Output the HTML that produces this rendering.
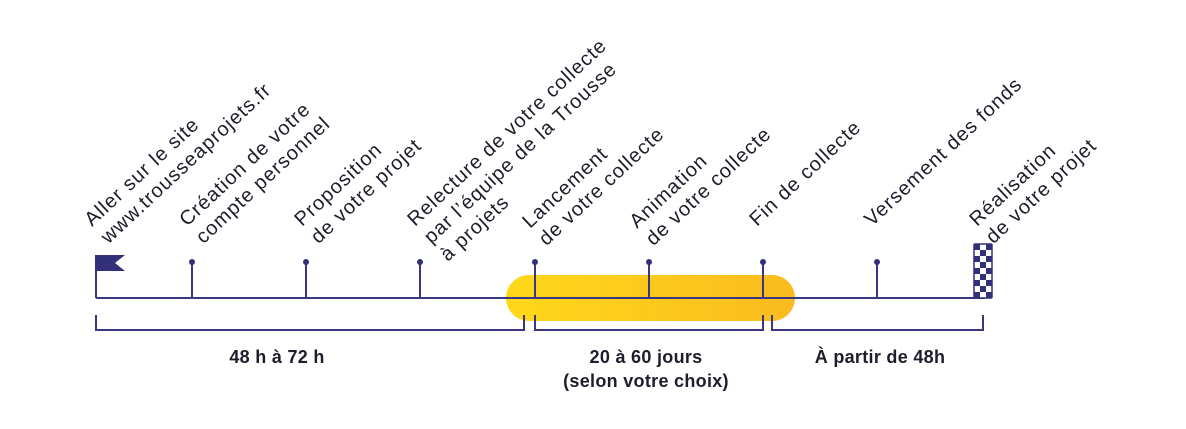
<!DOCTYPE html>
<html><head><meta charset="utf-8"><style>
html,body{margin:0;padding:0;background:#fff;}
svg{display:block;}
text{font-family:"Liberation Sans",sans-serif;fill:#1d1d2b;}
</style></head><body>
<svg width="1186" height="429" viewBox="0 0 1186 429" xmlns="http://www.w3.org/2000/svg">
<defs>
<linearGradient id="g" x1="0" x2="1" y1="0" y2="0">
<stop offset="0" stop-color="#FFD81A"/><stop offset="1" stop-color="#FBBB1F"/>
</linearGradient>
<pattern id="chk" x="974" y="244" width="12" height="12" patternUnits="userSpaceOnUse">
<rect width="12" height="12" fill="#fff"/>
<rect width="6" height="6" fill="#33307a"/><rect x="6" y="6" width="6" height="6" fill="#33307a"/>
</pattern>
</defs>
<rect x="506" y="275" width="289" height="46" rx="23" fill="url(#g)"/>
<g stroke="#3a3682" stroke-width="2" fill="none">
<line x1="96" y1="298" x2="985" y2="298"/>
<line x1="96" y1="256" x2="96" y2="298"/>
<line x1="192" y1="262" x2="192" y2="298"/>
<line x1="306" y1="262" x2="306" y2="298"/>
<line x1="420" y1="262" x2="420" y2="298"/>
<line x1="535" y1="262" x2="535" y2="298"/>
<line x1="649" y1="262" x2="649" y2="298"/>
<line x1="763" y1="262" x2="763" y2="298"/>
<line x1="877" y1="262" x2="877" y2="298"/>
<polyline points="96,315 96,330 524,330 524,315"/>
<polyline points="535,315 535,330 763,330 763,315"/>
<polyline points="772,315 772,330 983,330 983,315"/>
</g>
<g fill="#33307a">
<circle cx="192" cy="262" r="3"/><circle cx="306" cy="262" r="3"/><circle cx="420" cy="262" r="3"/>
<circle cx="535" cy="262" r="3"/><circle cx="649" cy="262" r="3"/><circle cx="763" cy="262" r="3"/>
<circle cx="877" cy="262" r="3"/>
<polygon points="95,255 125,255 115,263 125,271 95,271"/>
</g>
<rect x="974" y="244" width="18" height="54" fill="url(#chk)" stroke="#33307a" stroke-width="1.5" rx="1"/>
<g font-size="20" letter-spacing="1">
<text transform="translate(92,227) rotate(-43)"><tspan x="0" y="0">Aller sur le site</tspan><tspan x="0" y="24">www.trousseaprojets.fr</tspan></text>
<text transform="translate(187,227) rotate(-43)"><tspan x="0" y="0">Création de votre</tspan><tspan x="0" y="24">compte personnel</tspan></text>
<text transform="translate(302,227) rotate(-43)"><tspan x="0" y="0">Proposition</tspan><tspan x="0" y="24">de votre projet</tspan></text>
<text transform="translate(415,227) rotate(-43)"><tspan x="0" y="0">Relecture de votre collecte</tspan><tspan x="0" y="24">par l’équipe de la Trousse</tspan><tspan x="0" y="48">à projets</tspan></text>
<text transform="translate(530,229) rotate(-43)"><tspan x="0" y="0">Lancement</tspan><tspan x="0" y="24">de votre collecte</tspan></text>
<text transform="translate(637,229) rotate(-43)"><tspan x="0" y="0">Animation</tspan><tspan x="0" y="24">de votre collecte</tspan></text>
<text transform="translate(757,227) rotate(-43)"><tspan x="0" y="0">Fin de collecte</tspan></text>
<text transform="translate(872,227) rotate(-43)"><tspan x="0" y="0">Versement des fonds</tspan></text>
<text transform="translate(977,227) rotate(-43)"><tspan x="0" y="0">Réalisation</tspan><tspan x="0" y="24">de votre projet</tspan></text>
</g>
<g font-size="18" font-weight="bold" text-anchor="middle" letter-spacing="0.3">
<text x="277" y="363">48 h à 72 h</text>
<text x="646" y="363">20 à 60 jours</text>
<text x="646" y="387">(selon votre choix)</text>
<text x="880" y="363">À partir de 48h</text>
</g>
</svg>
</body></html>
